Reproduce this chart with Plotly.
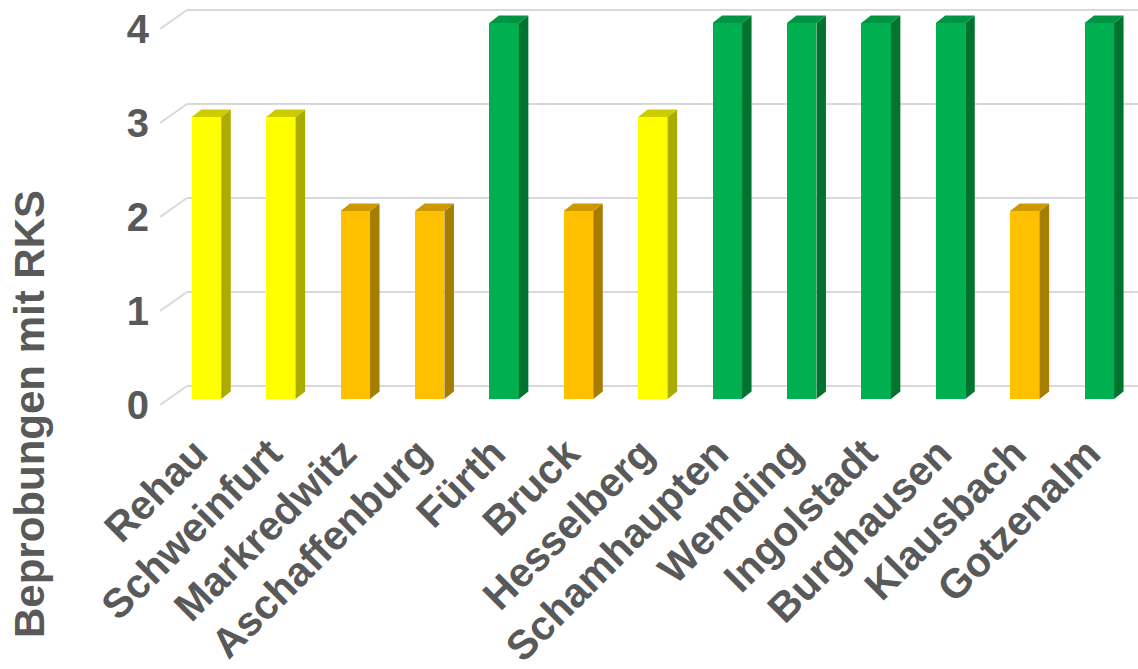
import plotly.graph_objects as go

# ---- data ----
stations = ["Rehau", "Schweinfurt", "Markredwitz", "Aschaffenburg", "Fürth", "Bruck",
            "Hesselberg", "Schamhaupten", "Wemding", "Ingolstadt", "Burghausen",
            "Klausbach", "Gotzenalm"]
counts = [3, 3, 2, 2, 4, 2, 3, 4, 4, 4, 4, 2, 4]
y_ticks = [0, 1, 2, 3, 4]
y_title = "Beprobungen mit RKS"

# colour by value: front, side, top
palette = {
    2: ("#FFC000", "#A67D00", "#CC9A00"),
    3: ("#FFFF00", "#ABAB00", "#CCCC00"),
    4: ("#00B050", "#00732F", "#009443"),
}

# ---- geometry (pixel-based pseudo-3D) ----
W, H = 1138, 669
plot_l, plot_r, plot_t, plot_b = 160, 1138, 0, 420
px_x = 74.4          # pixels per category
px_y = 94.0          # pixels per value unit
x0_px = 206.5        # pixel of first category centre (front face)
y0_px = 405.0        # pixel of value 0 on front wall

x_lo = (plot_l - x0_px) / px_x
x_hi = (plot_r - x0_px) / px_x
y_hi = (y0_px - plot_t) / px_y
y_lo = (y0_px - plot_b) / px_y

bar_w = 29.5 / px_x
front_off = 6.0 / px_y          # bar front plane above wall front
bar_dx, bar_dy = 9.5 / px_x, 7.5 / px_y
wall_dx, wall_dy = 27.0 / px_x, 19.0 / px_y
label_shift = 11.0 / px_x

xs = list(range(len(stations)))

fig = go.Figure()

# front faces
fig.add_trace(go.Bar(
    x=xs, y=counts, base=[front_off] * len(xs), width=bar_w,
    marker=dict(color=[palette[v][0] for v in counts], line=dict(width=0)),
    hoverinfo="skip", showlegend=False))

# side and top faces
for val, (fc, sc, tc) in palette.items():
    sx, sy, tx, ty = [], [], [], []
    for i, v in zip(xs, counts):
        if v != val:
            continue
        xl, xr = i - bar_w / 2, i + bar_w / 2
        b, t = front_off, front_off + v
        sx += [xr, xr + bar_dx, xr + bar_dx, xr, xr, None]
        sy += [b, b + bar_dy, t + bar_dy, t, b, None]
        tx += [xl, xl + bar_dx, xr + bar_dx, xr, xl, None]
        ty += [t, t + bar_dy, t + bar_dy, t, t, None]
    fig.add_trace(go.Scatter(x=sx, y=sy, mode="lines", fill="toself", fillcolor=sc,
                             line=dict(width=0, color=sc), hoverinfo="skip", showlegend=False))
    fig.add_trace(go.Scatter(x=tx, y=ty, mode="lines", fill="toself", fillcolor=tc,
                             line=dict(width=0, color=tc), hoverinfo="skip", showlegend=False))

# gridlines (side wall diagonal + back wall)
grid_col = "#D9D9D9"
for v in y_ticks:
    fig.add_shape(type="line", layer="below", x0=x_lo, y0=v, x1=x_lo + wall_dx, y1=v + wall_dy,
                  line=dict(color=grid_col, width=2))
    fig.add_shape(type="line", layer="below", x0=x_lo + wall_dx, y0=v + wall_dy, x1=x_hi + 1,
                  y1=v + wall_dy, line=dict(color=grid_col, width=2))

font_col = "#595959"
fig.update_layout(
    width=W, height=H,
    margin=dict(l=plot_l, r=W - plot_r, t=plot_t, b=H - plot_b, pad=0, autoexpand=False),
    paper_bgcolor="white", plot_bgcolor="white",
    bargap=0, showlegend=False,
    font=dict(family="Liberation Sans, Arial, sans-serif", color=font_col),
    xaxis=dict(range=[x_lo, x_hi], tickmode="array", tickvals=[i - label_shift for i in xs],
               ticktext=stations, automargin=False,
               tickangle=-45, showgrid=False, zeroline=False, showline=False, ticks="",
               ticklabelstandoff=0,
               tickfont=dict(size=41, color=font_col, weight="bold")),
    yaxis=dict(range=[y_lo, y_hi], tickmode="array", tickvals=y_ticks, automargin=False,
               showgrid=False, zeroline=False, showline=False, ticks="",
               ticklabelstandoff=10,
               tickfont=dict(size=40, color=font_col, weight="bold")),
    annotations=[dict(text=y_title, textangle=-90, xref="paper", yref="paper",
                      x=(29 - plot_l) / (plot_r - plot_l), y=1 - (414 - plot_t) / (plot_b - plot_t),
                      xanchor="center", yanchor="middle", showarrow=False,
                      font=dict(size=42, color=font_col, weight="bold"))],
)

fig.write_html("out.html")
